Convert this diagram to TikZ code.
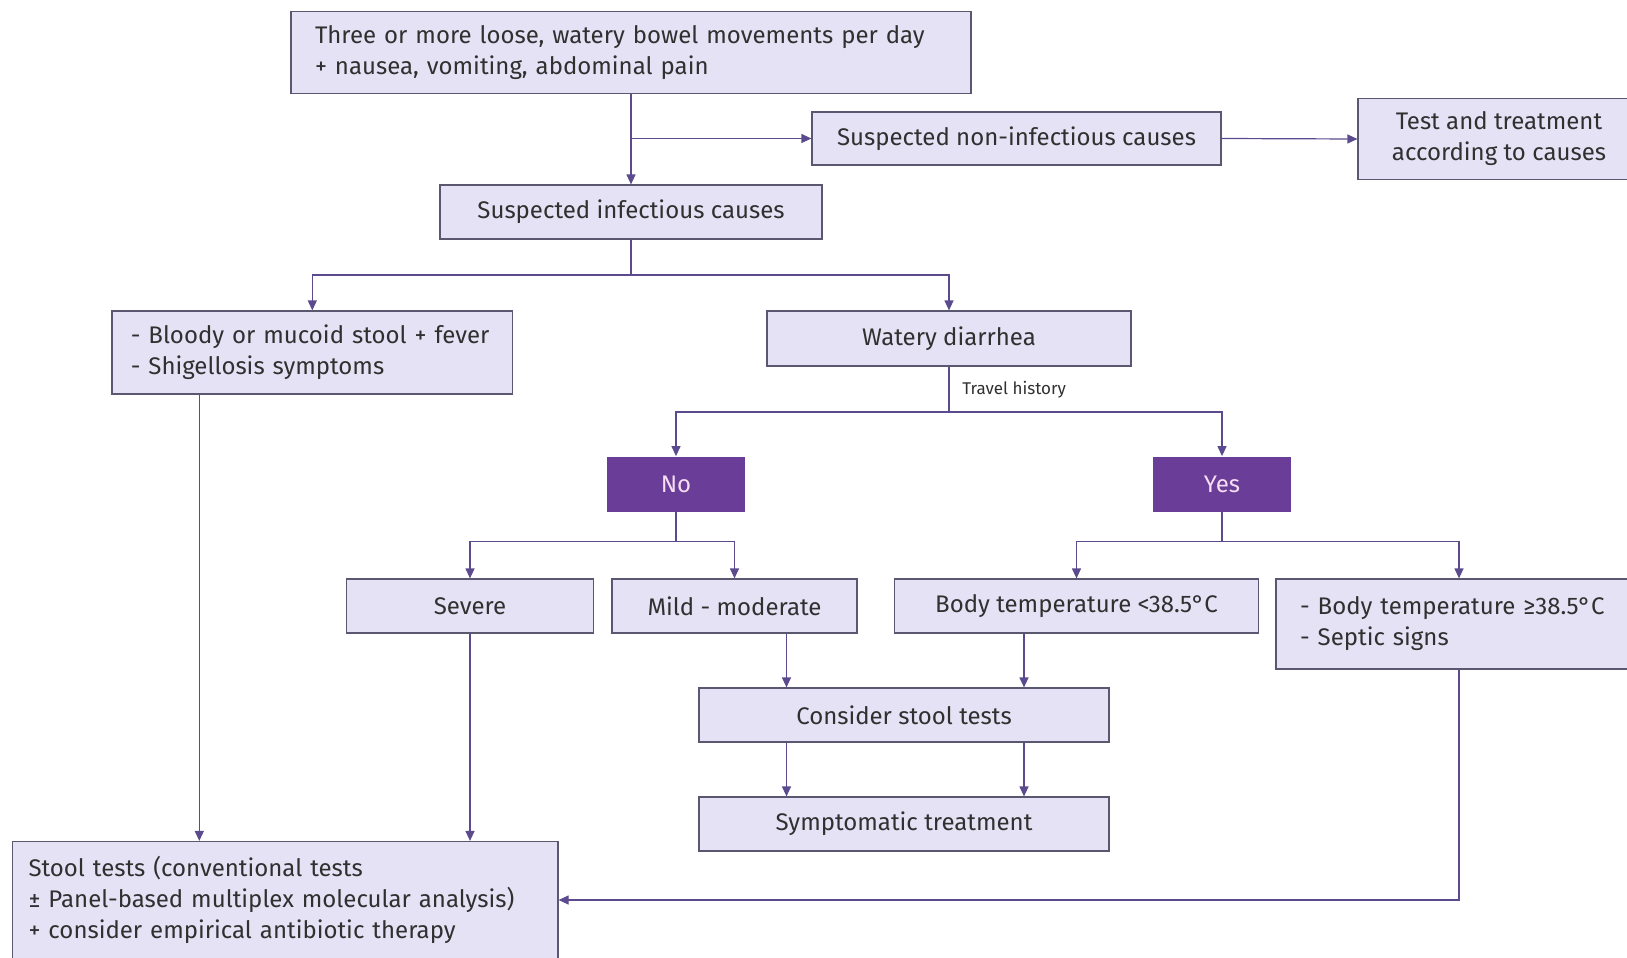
\documentclass[tikz,border=0pt]{standalone}
\usepackage{fontspec}
\setmainfont{Fira Sans}
\usetikzlibrary{arrows.meta}
\usetikzlibrary{positioning}

\definecolor{boxfill}{HTML}{E4E2F4}
\definecolor{boxline}{HTML}{5A5870}
\definecolor{linkcol}{HTML}{5C4A8E}
\definecolor{pickfill}{HTML}{6A3E98}
\definecolor{picktext}{HTML}{F5DDF3}
\definecolor{txt}{HTML}{303030}

\tikzset{
  box/.style={draw=boxline, fill=boxfill, text=txt, line width=0.6pt, inner sep=0pt,
    font=\fontsize{12}{15.5}\selectfont},
  pick/.style={fill=pickfill, text=picktext, inner sep=0pt, minimum width=69pt,
    minimum height=27.5pt, font=\fontsize{12}{15.5}\selectfont},
  link/.style={draw=linkcol, line width=0.6pt, -{Triangle[length=5pt,width=4.5pt]}},
  plain/.style={draw=linkcol, line width=0.6pt},
}

\begin{document}
\begin{tikzpicture}[x=0.5pt,y=-0.5pt]
    \useasboundingbox (0,0) rectangle (1627,958);

    % boxes
    \node[box, minimum width=340pt, minimum height=41pt, text width=316pt, align=left] (top) at (631,52.4)
      {Three or more loose, watery bowel movements per day\\+ nausea, vomiting, abdominal pain};
    \node[box, minimum width=204.5pt, minimum height=26.5pt] (noninf) at (1016.5,138.5) {Suspected non-infectious causes};
    \node[box, minimum width=141pt, minimum height=40.5pt, align=center] (testtr) at (1499,139)
      {Test and treatment\\according to causes};
    \node[box, minimum width=191pt, minimum height=27pt] (infect) at (631,212) {Suspected infectious causes};
    \node[box, minimum width=200.3pt, minimum height=41.5pt, text width=181.5pt, align=left] (bloody) at (312.3,352.5)
      {- Bloody or mucoid stool + fever\\- Shigellosis symptoms};
    \node[box, minimum width=182pt, minimum height=27.5pt] (watery) at (949,338.5) {Watery diarrhea};
    \node[pick] (no) at (676,484) {No};
    \node[pick] (yes) at (1222,484) {Yes};
    \node[box, minimum width=123.5pt, minimum height=27pt] (severe) at (470,606) {Severe};
    \node[box, minimum width=122.5pt, minimum height=27pt] (mild) at (734.5,606) {Mild - moderate};
    \node[box, minimum width=182pt, minimum height=27pt] (tlow) at (1076.5,606) {Body temperature <38.5°C};
    \node[box, minimum width=183pt, minimum height=45pt, text width=159pt, align=left] (thigh) at (1459,624)
      {- Body temperature ≥38.5°C\\- Septic signs};
    \node[box, minimum width=205pt, minimum height=27pt] (consider) at (904,715) {Consider stool tests};
    \node[box, minimum width=205pt, minimum height=27pt] (sympt) at (904,824) {Symptomatic treatment};
    \node[box, minimum width=272.75pt, minimum height=58.5pt, text width=256.75pt, align=left] (stool) at (285.25,900)
      {Stool tests (conventional tests\\± Panel-based multiplex molecular analysis)\\+ consider empirical antibiotic therapy};

    % fork points
    \coordinate (fork1) at (631,275);
    \coordinate (fork2) at (949,412);
    \coordinate (fork3) at (676,541.6);
    \coordinate (fork4) at (1222,541.6);

    % connectors
    \draw[link] (top.south) -- (infect.north);
    \draw[link] (infect.north |- noninf.west) -- (noninf.west);
    \draw[link] (noninf.east) -- (testtr.west);

    \draw[plain] (infect.south) -- (fork1);
    \draw[link] (fork1) -| (bloody.north);
    \draw[link] (fork1) -| (watery.north);

    \draw[plain] (watery.south) -- node[right=3pt, font=\fontsize{8.5}{10}\selectfont, text=txt] (travel) {Travel history} (fork2);
    \draw[link] (fork2) -| (no.north);
    \draw[link] (fork2) -| (yes.north);

    \draw[plain] (no.south) -- (fork3);
    \draw[link] (fork3) -| (severe.north);
    \draw[link] (fork3) -| (mild.north);
    \draw[plain] (yes.south) -- (fork4);
    \draw[link] (fork4) -| (tlow.north);
    \draw[link] (fork4) -| (thigh.north);

    \draw[link] ([xshift=-58.75pt]consider.north |- mild.south) -- ([xshift=-58.75pt]consider.north);
    \draw[link] ([xshift=60pt]consider.north |- tlow.south) -- ([xshift=60pt]consider.north);
    \draw[link] ([xshift=-58.75pt]consider.south) -- ([xshift=-58.75pt]sympt.north);
    \draw[link] ([xshift=60pt]consider.south) -- ([xshift=60pt]sympt.north);

    \draw[link] ([xshift=-56.5pt]bloody.south) -- ([xshift=-56.5pt]bloody.south |- stool.north);
    \draw[link] (severe.south) -- (severe.south |- stool.north);
    \draw[link] (thigh.south) |- (stool.east);
  \end{tikzpicture}
\end{document}
